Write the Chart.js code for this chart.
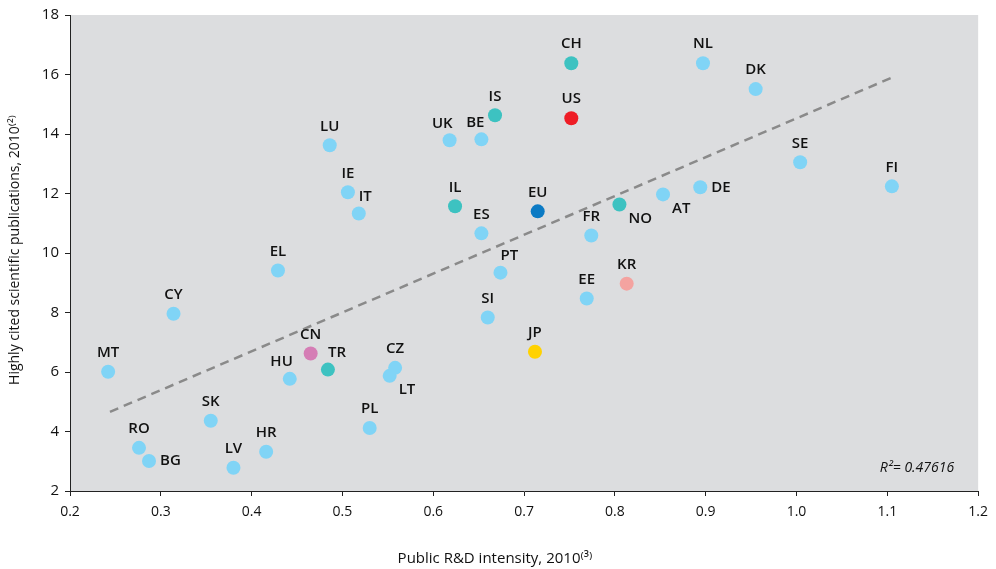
<!DOCTYPE html>
<html>
<head>
<meta charset="utf-8">
<script src="https://cdn.jsdelivr.net/npm/chart.js@4/dist/chart.umd.min.js"></script>
<style>
html,body{margin:0;padding:0;background:#fff;}
#wrap{width:996px;height:569px;position:relative;}
</style>
</head>
<body>
<div id="wrap"><canvas id="c" width="996" height="569"></canvas></div>
<script>
// ---- data ----
const codes = ['MT','RO','BG','CY','SK','LV','EL','HR','HU','CN','TR','LU','IE','IT','PL','LT','CZ','UK','IL','BE','ES','IS','SI','PT','JP','EU','US','CH','EE','FR','NO','KR','AT','DE','NL','DK','SE','FI'];
const rdIntensity = [0.242,0.276,0.287,0.314,0.355,0.380,0.429,0.416,0.442,0.465,0.484,0.486,0.506,0.518,0.530,0.552,0.558,0.618,0.624,0.653,0.653,0.668,0.660,0.674,0.712,0.715,0.752,0.752,0.769,0.774,0.805,0.813,0.853,0.894,0.897,0.955,1.004,1.105];
const citedPubs = [6.01,3.45,3.01,7.96,4.36,2.78,9.41,3.32,5.77,6.62,6.08,13.62,12.04,11.33,4.12,5.87,6.14,13.79,11.57,13.82,10.66,14.63,7.83,9.34,6.68,11.40,14.53,16.38,8.47,10.59,11.63,8.97,11.97,12.21,16.38,15.51,13.05,12.24];
const groups = ['eu','eu','eu','eu','eu','eu','eu','eu','eu','cn','assoc','eu','eu','eu','eu','eu','eu','eu','assoc','eu','eu','assoc','eu','eu','jp','euAvg','us','assoc','eu','eu','assoc','kr','eu','eu','eu','eu','eu','eu'];
const trendX = [0.244, 1.106];
const trendY = [4.66, 15.91];
const xTicks = [0.2,0.3,0.4,0.5,0.6,0.7,0.8,0.9,1.0,1.1,1.2];
const yTicks = [2,4,6,8,10,12,14,16,18];
const rSquaredText = 'R²= 0.47616';

// ---- styles ----
const groupColors = {eu:'#80D4F6', assoc:'#3DC2C1', us:'#EE1C25', euAvg:'#0B7AC4', cn:'#D57DB5', jp:'#FFD200', kr:'#F4A3A0'};
const labelPlacement = {BG:'r', TR:'tr', LT:'br', NO:'br', AT:'br', DE:'r', IT:'tr', PT:'tr', UK:'tl', BE:'tl', HU:'tl'};

const pts = codes.map((c,i)=>({x:rdIntensity[i], y:citedPubs[i]}));
const trend = trendX.map((x,i)=>({x:x, y:trendY[i]}));
const FONT = '"Open Sans", "Noto Sans", sans-serif';

const bgPlugin = {
  id:'bg',
  beforeDraw(chart){
    const a = chart.chartArea, ctx = chart.ctx;
    ctx.save(); ctx.fillStyle = '#DCDDDF';
    ctx.fillRect(a.left, a.top, a.right-a.left, a.bottom-a.top);
    ctx.restore();
  }
};
const labelPlugin = {
  id:'labels',
  afterDatasetsDraw(chart){
    const ctx = chart.ctx;
    const meta = chart.getDatasetMeta(1);
    ctx.save();
    ctx.font = '600 15px ' + FONT;
    ctx.fillStyle = '#111';
    ctx.textBaseline = 'middle';
    meta.data.forEach((el,i)=>{
      const p = labelPlacement[codes[i]] || 't';
      let x = el.x, y = el.y, align = 'center';
      if (p==='t'){ y -= 19; }
      else if (p==='r'){ x += 11; align='left'; }
      else if (p==='tr'){ x += 0; y -= 17; align='left'; }
      else if (p==='br'){ x += 9; y += 14; align='left'; }
      else if (p==='tl'){ x += 3; y -= 17; align='right'; }
      ctx.textAlign = align;
      ctx.fillText(codes[i], x, y);
    });
    // R squared
    const a = chart.chartArea;
    ctx.font = 'italic 14px ' + FONT;
    ctx.textAlign = 'right';
    ctx.fillStyle = '#111';
    ctx.fillText(rSquaredText, a.right - 24, a.bottom - 23);
    // axis titles
    ctx.font = '15px ' + FONT;
    ctx.textAlign = 'center';
    ctx.fillText('Public R&D intensity, 2010⁽³⁾', 495, 559);
    ctx.save();
    ctx.translate(15, 250);
    ctx.rotate(-Math.PI/2);
    ctx.font = '14px ' + FONT;
    ctx.fillText('Highly cited scientific publications, 2010⁽²⁾', 0, 0);
    ctx.restore();
    ctx.restore();
  }
};

new Chart(document.getElementById('c'), {
  type:'scatter',
  data:{
    datasets:[
      {type:'line', data:trend, borderColor:'#8A8A8A', borderWidth:2.5, borderDash:[9,6], pointRadius:0, fill:false, order:2},
      {data:pts, backgroundColor:groups.map(g=>groupColors[g]), borderWidth:0, pointRadius:7, pointHoverRadius:7, order:1}
    ]
  },
  options:{
    responsive:false, animation:false,
    layout:{padding:{top:15, right:17, left:0, bottom:0}},
    plugins:{legend:{display:false}, tooltip:{enabled:false}},
    scales:{
      x:{
        type:'linear', min:0.2, max:1.2,
        afterBuildTicks(s){ s.ticks = xTicks.map(v=>({value:v})); },
        afterFit(s){ s.height = 78; },
        ticks:{callback:v=>Number(v).toFixed(1), color:'#111', font:{size:14, family:FONT}, padding:8, maxRotation:0},
        grid:{drawOnChartArea:false, drawTicks:true, tickLength:5, color:'#222'},
        border:{color:'#222', width:1}
      },
      y:{
        type:'linear', min:2, max:18,
        afterBuildTicks(s){ s.ticks = yTicks.map(v=>({value:v})); },
        afterFit(s){ s.width = 70; },
        ticks:{color:'#111', font:{size:15, family:FONT}, padding:6},
        grid:{drawOnChartArea:false, drawTicks:true, tickLength:5, color:'#222'},
        border:{color:'#222', width:1}
      }
    }
  },
  plugins:[bgPlugin, labelPlugin]
});
</script>
</body>
</html>
